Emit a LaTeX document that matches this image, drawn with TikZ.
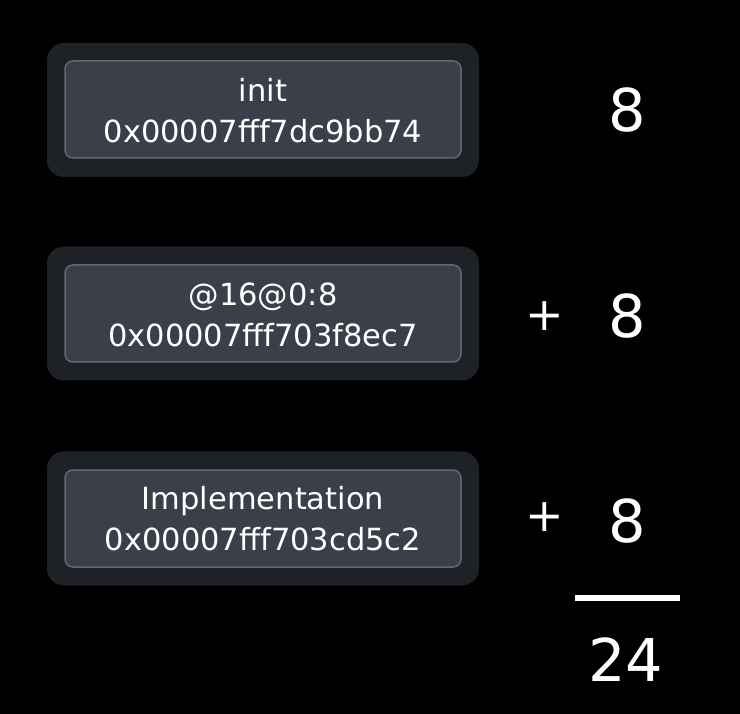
\documentclass[tikz,border=0pt]{standalone}
\usepackage{fontspec}
\setmainfont{DejaVu Sans}
\definecolor{outerc}{RGB}{30,33,38}
\definecolor{innerc}{RGB}{58,63,73}
\definecolor{borderc}{RGB}{98,103,113}
\begin{document}
\begin{tikzpicture}[x=1pt,y=-1pt,
  outerbox/.style={rectangle,rounded corners=17pt,fill=outerc,minimum width=432pt,minimum height=134pt,inner sep=0pt},
  innerbox/.style={rectangle,rounded corners=8pt,fill=innerc,draw=borderc,line width=1.5pt,minimum width=396pt,minimum height=97pt,inner sep=0pt},
  label/.style={text=white,align=center,font=\fontsize{30.5}{41}\selectfont,inner sep=0pt},
  bignum/.style={text=white,font=\fontsize{59}{66}\selectfont,inner sep=0pt},
  plussign/.style={text=white,font=\fontsize{46}{50}\selectfont,inner sep=0pt}]
\fill[black] (0,0) rectangle (740,714);
\useasboundingbox (0,0) rectangle (740,714);
% boxes
\node[outerbox] (o1) at (263,110) {};
\node[innerbox] (i1) at (263,109.5) {};
\node[label] (t1) at (263,110.5) {init\\0x00007fff7dc9bb74};
\node[outerbox] (o2) at (263,313.5) {};
\node[innerbox] (i2) at (263,313.5) {};
\node[label] (t2) at (263,315) {@16@0:8\\0x00007fff703f8ec7};
\node[outerbox] (o3) at (263,518.5) {};
\node[innerbox] (i3) at (263,518.5) {};
\node[label] (t3) at (263,519) {Implementation\\0x00007fff703cd5c2};
% numbers
\node[bignum] (n1) at (627,110) {8};
\node[bignum] (n2) at (627,316) {8};
\node[bignum] (n3) at (627,521) {8};
\node[plussign] (p2) at (545,316) {+};
\node[plussign] (p3) at (545,517) {+};
\coordinate (la) at (575,598);
\coordinate (lb) at (680,598);
\draw[white,line width=6pt] (la) -- (lb);
\node[bignum] (sum) at (626,660) {24};
\end{tikzpicture}
\end{document}
